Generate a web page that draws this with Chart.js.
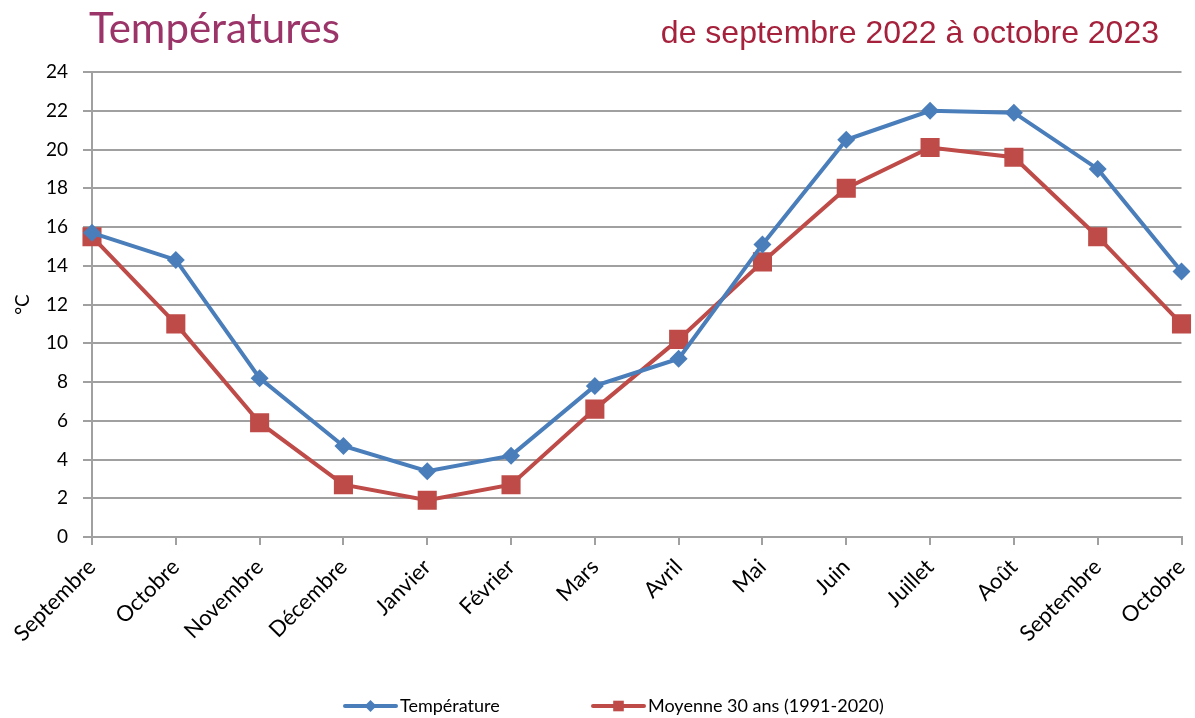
<!DOCTYPE html>
<html lang="fr">
<head>
    <meta charset="UTF-8">
    <title>Températures</title>
    <script src="https://cdn.jsdelivr.net/npm/chart.js"></script>
    <style>
        body { margin: 0; background: #fff; }
        #wrap { position: relative; width: 1195px; height: 718px; }
        #titre { position: absolute; left: 89px; top: 2px; font-family: Lato, 'Open Sans', sans-serif; font-size: 42px; color: #9b3468; }
        #periode { position: absolute; right: 36px; top: 14px; font-family: 'Liberation Sans', Arial, sans-serif; font-size: 32px; color: #a5213c; }
    </style>
</head>
<body>
<div id="wrap">
    <canvas id="tempChart"></canvas>
    <div id="titre">Températures</div>
    <div id="periode">de septembre 2022 à octobre 2023</div>
</div>
<script>
    // données
    const mois = ['Septembre', 'Octobre', 'Novembre', 'Décembre', 'Janvier', 'Février', 'Mars',
                  'Avril', 'Mai', 'Juin', 'Juillet', 'Août', 'Septembre', 'Octobre'];
    const temperature = [15.7, 14.3, 8.2, 4.7, 3.4, 4.2, 7.8, 9.2, 15.1, 20.5, 22.0, 21.9, 19.0, 13.7];
    const moyenne30ans = [15.5, 11.0, 5.9, 2.7, 1.9, 2.7, 6.6, 10.2, 14.2, 18.0, 20.1, 19.6, 15.5, 11.0];
    const yTicks = [0, 2, 4, 6, 8, 10, 12, 14, 16, 18, 20, 22, 24];

    const bleu = '#4a7ebb';
    const rouge = '#be4b48';
    const gris = '#a0a0a0';
    const police = "Lato, 'Open Sans', sans-serif";

    // légende dessinée à la main (ligne + marqueur au milieu)
    const legendePlugin = {
        id: 'legende',
        afterDraw(chart) {
            const ctx = chart.ctx;
            const y = 706;
            const items = [
                { x0: 345, x1: 396, style: 'rectRot', r: 6 },
                { x0: 593, x1: 644, style: 'rect', r: 7.5 }
            ];
            chart.data.datasets.forEach((ds, i) => {
                const it = items[i];
                ctx.save();
                ctx.strokeStyle = ds.borderColor;
                ctx.lineWidth = 4;
                ctx.lineCap = 'round';
                ctx.beginPath();
                ctx.moveTo(it.x0, y);
                ctx.lineTo(it.x1, y);
                ctx.stroke();
                ctx.fillStyle = ds.pointBackgroundColor;
                Chart.helpers.drawPoint(ctx, { pointStyle: it.style, radius: it.r, borderWidth: 0 }, (it.x0 + it.x1) / 2, y);
                ctx.fillStyle = '#000';
                ctx.font = '18px ' + police;
                ctx.textBaseline = 'middle';
                ctx.fillText(ds.label, it.x1 + 4, y);
                ctx.restore();
            });
        }
    };

    const ctx = document.getElementById('tempChart').getContext('2d');
    new Chart(ctx, {
        type: 'line',
        data: {
            labels: mois,
            datasets: [{
                label: 'Température',
                data: temperature,
                borderColor: bleu,
                backgroundColor: bleu,
                pointBackgroundColor: bleu,
                pointBorderWidth: 0,
                pointStyle: 'rectRot',
                pointRadius: 9,
                borderWidth: 4,
                tension: 0
            }, {
                label: 'Moyenne 30 ans (1991-2020)',
                data: moyenne30ans,
                borderColor: rouge,
                backgroundColor: rouge,
                pointBackgroundColor: rouge,
                pointBorderWidth: 0,
                pointStyle: 'rect',
                pointRadius: 13.5,
                borderWidth: 4,
                tension: 0
            }]
        },
        options: {
            responsive: true,
            maintainAspectRatio: false,
            animation: false,
            layout: { padding: { top: 72, right: 9, left: 0, bottom: 0 } },
            plugins: {
                legend: { display: false },
                tooltip: { enabled: false }
            },
            scales: {
                x: {
                    offset: false,
                    afterFit: (s) => { s.height = 181; s.paddingRight = 0; s.paddingLeft = 0; },
                    grid: { drawOnChartArea: false, drawTicks: true, tickLength: 8, color: gris, lineWidth: 2 },
                    border: { display: true, color: gris, width: 2 },
                    ticks: {
                        minRotation: 45, maxRotation: 45, autoSkip: false,
                        padding: 9, color: '#000',
                        font: { family: police, size: 22 }
                    }
                },
                y: {
                    min: 0, max: 24,
                    afterFit: (s) => { s.width = 92; },
                    afterBuildTicks: (s) => { s.ticks = yTicks.map(v => ({ value: v })); },
                    grid: { color: gris, lineWidth: 2, tickLength: 9 },
                    border: { display: true, color: gris, width: 2 },
                    ticks: { padding: 15, color: '#000', font: { family: police, size: 19 } },
                    title: {
                        display: true, text: '°C', color: '#000',
                        padding: { top: 11, bottom: 0 },
                        font: { family: police, size: 19 }
                    }
                }
            }
        },
        plugins: [legendePlugin]
    });
</script>
</body>
</html>
